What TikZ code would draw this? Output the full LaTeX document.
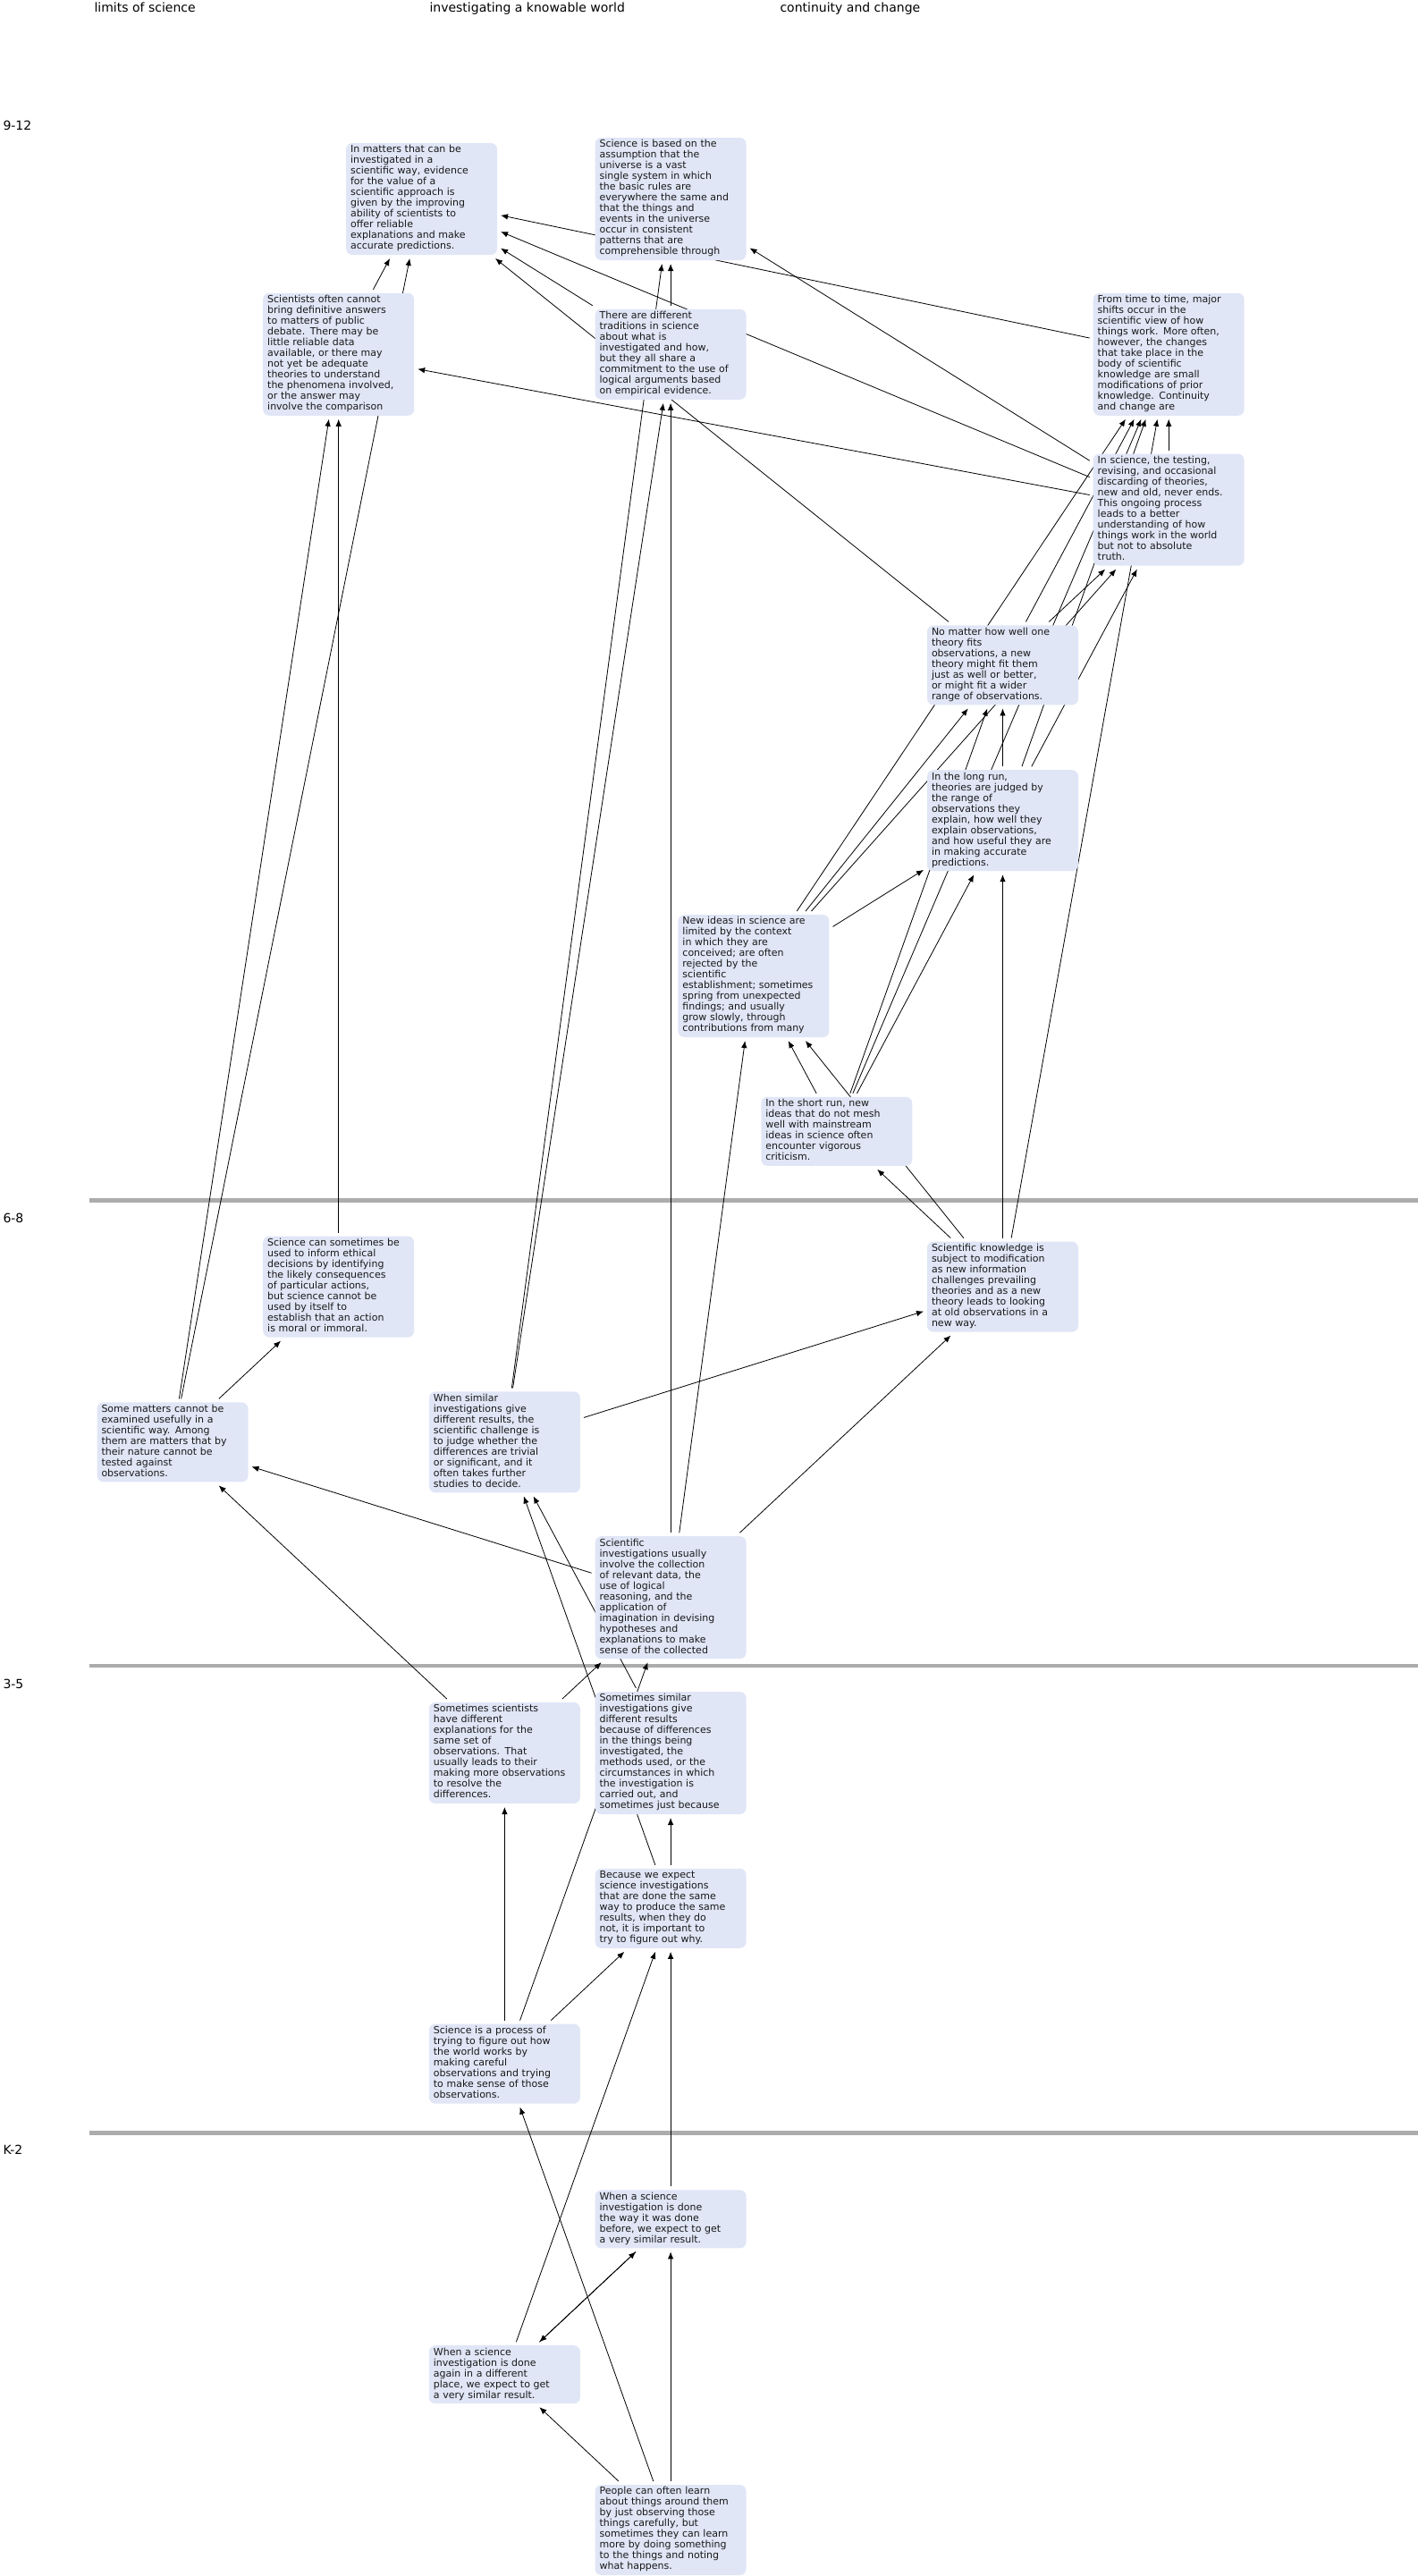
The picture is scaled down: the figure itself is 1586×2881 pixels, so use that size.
\documentclass[tikz,border=0pt]{standalone}
\usepackage{fontspec}
\setmainfont{DejaVu Sans}
\usetikzlibrary{arrows.meta}
\pgfdeclarelayer{background}
\pgfsetlayers{background,main}
\definecolor{boxfill}{RGB}{224,230,246}
\definecolor{boxtext}{RGB}{25,25,25}
\definecolor{gradeline}{RGB}{172,172,172}

\begin{document}
\begin{tikzpicture}[
			x=1pt, y=-1pt,
			% Define styles for nodes
			box/.style={fill=boxfill, rounded corners=7pt, text=boxtext, align=left, text width=159pt,
				inner xsep=5pt, inner ysep=2.5pt, outer sep=4pt, font=\fontsize{11pt}{12pt}\selectfont,
				execute at begin node=\strut, execute at end node=\strut},
			heading/.style={anchor=base west, font=\fontsize{14pt}{16pt}\selectfont},
			link/.style={draw, line width=0.8pt, -{Latex[length=8pt,width=6.5pt]}}
		]
		\useasboundingbox (0,0) rectangle (1586,2881);

		% Strand headings
		\node[heading] (limits) at (102,13) {limits of science};
		\node[heading] (knowable) at (477,13) {investigating a knowable world};
		\node[heading] (continuity) at (869,13) {continuity and change};

		% Grade labels
		\node[heading] (g912) at (0,145) {9-12};
		\node[heading] (g68) at (0,1367) {6-8};
		\node[heading] (g35) at (0,1888) {3-5};
		\node[heading] (gk2) at (0,2409) {K-2};

		% Benchmarks on a grid of columns and ranks
		\begin{scope}[shift={(193,222.5)}, x=92.85pt, y=-173.8pt]
			% 9-12
			\node[box] (matters) at (3,0) {In matters that can be\\investigated in a\\scientific way, evidence\\for the value of a\\scientific approach is\\given by the improving\\ability of scientists to\\offer reliable\\explanations and make\\accurate predictions.};
			\node[box] (based) at (6,0) {Science is based on the\\assumption that the\\universe is a vast\\single system in which\\the basic rules are\\everywhere the same and\\that the things and\\events in the universe\\occur in consistent\\patterns that are\\comprehensible through};
			\node[box] (scientists) at (2,1) {Scientists often cannot\\bring definitive answers\\to matters of public\\debate. There may be\\little reliable data\\available, or there may\\not yet be adequate\\theories to understand\\the phenomena involved,\\or the answer may\\involve the comparison};
			\node[box] (traditions) at (6,1) {There are different\\traditions in science\\about what is\\investigated and how,\\but they all share a\\commitment to the use of\\logical arguments based\\on empirical evidence.};
			\node[box] (shifts) at (12,1) {From time to time, major\\shifts occur in the\\scientific view of how\\things work. More often,\\however, the changes\\that take place in the\\body of scientific\\knowledge are small\\modifications of prior\\knowledge. Continuity\\and change are};
			\node[box] (testing) at (12,2) {In science, the testing,\\revising, and occasional\\discarding of theories,\\new and old, never ends.\\This ongoing process\\leads to a better\\understanding of how\\things work in the world\\but not to absolute\\truth.};
			\node[box] (nomatter) at (10,3) {No matter how well one\\theory fits\\observations, a new\\theory might fit them\\just as well or better,\\or might fit a wider\\range of observations.};
			\node[box] (longrun) at (10,4) {In the long run,\\theories are judged by\\the range of\\observations they\\explain, how well they\\explain observations,\\and how useful they are\\in making accurate\\predictions.};
			\node[box] (newideas) at (7,5) {New ideas in science are\\limited by the context\\in which they are\\conceived; are often\\rejected by the\\scientific\\establishment; sometimes\\spring from unexpected\\findings; and usually\\grow slowly, through\\contributions from many};
			\node[box] (shortrun) at (8,6) {In the short run, new\\ideas that do not mesh\\well with mainstream\\ideas in science often\\encounter vigorous\\criticism.};
			% 6-8
			\node[box] (ethical) at (2,7) {Science can sometimes be\\used to inform ethical\\decisions by identifying\\the likely consequences\\of particular actions,\\but science cannot be\\used by itself to\\establish that an action\\is moral or immoral.};
			\node[box] (knowledge) at (10,7) {Scientific knowledge is\\subject to modification\\as new information\\challenges prevailing\\theories and as a new\\theory leads to looking\\at old observations in a\\new way.};
			\node[box] (somematters) at (0,8) {Some matters cannot be\\examined usefully in a\\scientific way. Among\\them are matters that by\\their nature cannot be\\tested against\\observations.};
			\node[box] (similar) at (4,8) {When similar\\investigations give\\different results, the\\scientific challenge is\\to judge whether the\\differences are trivial\\or significant, and it\\often takes further\\studies to decide.};
			\node[box] (sciinv) at (6,9) {Scientific\\investigations usually\\involve the collection\\of relevant data, the\\use of logical\\reasoning, and the\\application of\\imagination in devising\\hypotheses and\\explanations to make\\sense of the collected};
			% 3-5
			\node[box] (sometimes) at (4,10) {Sometimes scientists\\have different\\explanations for the\\same set of\\observations. That\\usually leads to their\\making more observations\\to resolve the\\differences.};
			\node[box] (diffresults) at (6,10) {Sometimes similar\\investigations give\\different results\\because of differences\\in the things being\\investigated, the\\methods used, or the\\circumstances in which\\the investigation is\\carried out, and\\sometimes just because};
			\node[box] (expect) at (6,11) {Because we expect\\science investigations\\that are done the same\\way to produce the same\\results, when they do\\not, it is important to\\try to figure out why.};
			\node[box] (process) at (4,12) {Science is a process of\\trying to figure out how\\the world works by\\making careful\\observations and trying\\to make sense of those\\observations.};
			% K-2
			\node[box] (sameway) at (6,13) {When a science\\investigation is done\\the way it was done\\before, we expect to get\\a very similar result.};
			\node[box] (diffplace) at (4,14) {When a science\\investigation is done\\again in a different\\place, we expect to get\\a very similar result.};
			\node[box] (people) at (6,15) {People can often learn\\about things around them\\by just observing those\\things carefully, but\\sometimes they can learn\\more by doing something\\to the things and noting\\what happens.};
		\end{scope}

		\begin{pgfonlayer}{background}
			% Grade band separators
			\foreach \y in {1342.5,1863,2385.5}
				\draw[gradeline, line width=4.5pt] (100,\y) -- (1586,\y);
			% Links between benchmarks
			\foreach \from/\to in {scientists/matters, somematters/matters, shifts/matters, testing/matters,
					traditions/matters, nomatter/matters,
					traditions/based, similar/based, testing/based,
					testing/scientists, somematters/scientists, ethical/scientists,
					similar/traditions, sciinv/traditions,
					newideas/shifts, nomatter/shifts, shortrun/shifts, longrun/shifts, knowledge/shifts, testing/shifts,
					nomatter/testing, newideas/testing, longrun/testing,
					newideas/nomatter, shortrun/nomatter, longrun/nomatter,
					newideas/longrun, shortrun/longrun, knowledge/longrun,
					sciinv/newideas, shortrun/newideas, knowledge/newideas,
					knowledge/shortrun,
					similar/knowledge, sciinv/knowledge,
					somematters/ethical,
					sciinv/somematters, sometimes/somematters,
					diffresults/similar, expect/similar,
					sometimes/sciinv, process/sciinv,
					process/sometimes,
					expect/diffresults,
					process/expect, diffplace/expect, sameway/expect,
					people/process,
					people/sameway, diffplace/sameway, sameway/diffplace,
					people/diffplace}
				\draw[link] (\from) -- (\to);
		\end{pgfonlayer}
	\end{tikzpicture}
\end{document}
